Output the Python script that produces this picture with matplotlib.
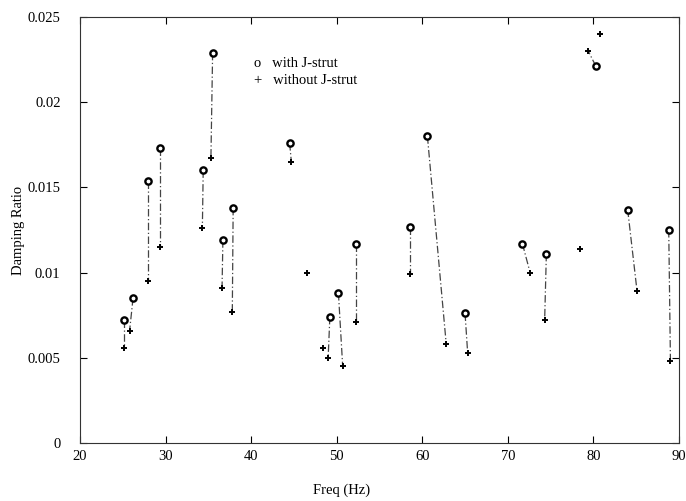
import matplotlib
matplotlib.use("Agg")
import matplotlib.pyplot as plt

# Data
with_freq = [25.1, 26.2, 27.9, 29.4, 34.4, 35.5, 36.7, 37.9, 44.5, 49.2,
             50.2, 52.3, 58.6, 60.6, 65.0, 71.7, 74.5, 80.3, 84.0, 88.8]
with_val = [0.0072, 0.0085, 0.0154, 0.0173, 0.0160, 0.0229, 0.0119, 0.0138,
            0.0176, 0.0074, 0.0088, 0.0117, 0.0127, 0.0180, 0.0076, 0.0117,
            0.0111, 0.0221, 0.0137, 0.0125]
without_freq = [25.1, 25.8, 27.9, 29.4, 34.3, 35.3, 36.6, 37.8, 44.7, 49.0,
                50.7, 52.3, 58.6, 62.8, 65.3, 72.6, 74.3, 79.4, 85.1, 89.0]
without_val = [0.0056, 0.0066, 0.0095, 0.0115, 0.0126, 0.0167, 0.0091, 0.0077,
               0.0165, 0.0050, 0.0045, 0.0071, 0.0099, 0.0058, 0.0053, 0.0100,
               0.0072, 0.0230, 0.0089, 0.0048]
extra_freq = [46.5, 48.4, 78.4, 80.8]
extra_val = [0.0100, 0.0056, 0.0114, 0.0240]

xticks = [20, 30, 40, 50, 60, 70, 80, 90]
yticks = [0, 0.005, 0.01, 0.015, 0.02, 0.025]
ytick_labels = ["0", "0.005", "0.01", "0.015", "0.02", "0.025"]

plt.rcParams['font.family'] = ['Liberation Serif', 'DejaVu Serif']

fig = plt.figure(figsize=(6.86, 5.01), dpi=100)
ax = fig.add_axes([0.1166, 0.1158, 0.8732, 0.8502])

for fw, vw, fo, vo in zip(with_freq, with_val, without_freq, without_val):
    ax.plot([fw, fo], [vw, vo], color='#444444', lw=0.9,
            linestyle=(0, (6, 2, 1, 2)))

ax.plot(with_freq, with_val, linestyle='none', marker='o', ms=4.5,
        mfc='white', mec='black', mew=1.7)
ax.plot(without_freq, without_val, linestyle='none', marker='+', ms=4.5,
        color='black', mew=1.4)
ax.plot(extra_freq, extra_val, linestyle='none', marker='+', ms=4.5,
        color='black', mew=1.4)

# legend as text
ax.text(40.3, 0.0223, "o   with J-strut", fontsize=10.5, va='center', ha='left')
ax.text(40.3, 0.0213, "+   without J-strut", fontsize=10.5, va='center', ha='left')

ax.set_xlim(20, 90)
ax.set_ylim(0, 0.025)
ax.set_xticks(xticks)
ax.set_xticklabels([str(t) for t in xticks])
ax.set_yticks(yticks)
ax.set_yticklabels(ytick_labels)
ax.tick_params(direction='in', top=True, right=True, length=5, width=0.8,
               labelsize=10.5)
ax.tick_params(axis='y', pad=14)
ax.tick_params(axis='x', pad=5)
for s in ax.spines.values():
    s.set_linewidth(0.8)
    s.set_color('#333333')

ax.set_xlabel("Freq (Hz)", fontsize=10.5)
ax.xaxis.set_label_coords(0.437, -0.096)
ax.set_ylabel("Damping Ratio", fontsize=10.5, labelpad=2)

fig.savefig("out.png", dpi=100)
